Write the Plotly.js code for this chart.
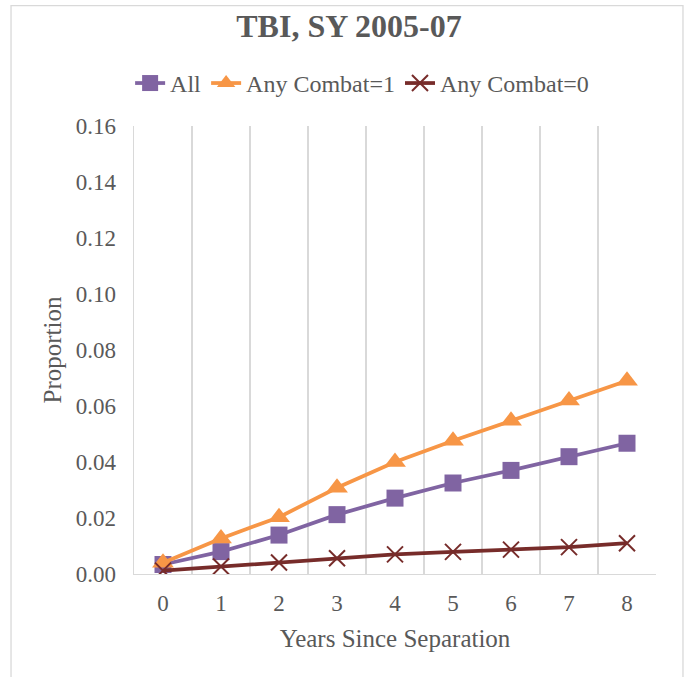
<!DOCTYPE html>
<html>
<head>
<meta charset="utf-8">
<script src="https://cdn.plot.ly/plotly-3.0.1.min.js"></script>
<style>html,body{margin:0;padding:0;background:#fff;}#chart{width:687px;height:677px;}</style>
</head>
<body>
<div id="chart"></div>
<script>
const years = ['0','1','2','3','4','5','6','7','8'];
const allVals = [0.0034, 0.0080, 0.0139, 0.0212, 0.0271, 0.0325, 0.0370, 0.0419, 0.0467];
const combat1 = [0.0040, 0.0127, 0.0203, 0.0308, 0.0400, 0.0476, 0.0547, 0.0620, 0.0690];
const combat0 = [0.0012, 0.0027, 0.0041, 0.0056, 0.0070, 0.0079, 0.0087, 0.0096, 0.0110];
const seriesNames = ['All', 'Any Combat=1', 'Any Combat=0'];
const yTicks = [0, 0.02, 0.04, 0.06, 0.08, 0.10, 0.12, 0.14, 0.16];

const font = 'Liberation Serif';
const gray = '#595959';

const traces = [
  {x: years, y: allVals, name: seriesNames[0], mode: 'lines+markers', type: 'scatter',
   line: {color: '#8064A2', width: 3.75}, marker: {symbol: 'square', size: 17, color: '#8064A2'}},
  {x: years, y: combat1, name: seriesNames[1], mode: 'lines+markers', type: 'scatter',
   line: {color: '#F79646', width: 3.75}, marker: {symbol: 'triangle-up', size: 19, color: '#F79646'}},
  {x: years, y: combat0, name: seriesNames[2], mode: 'lines+markers', type: 'scatter',
   line: {color: '#772C2A', width: 3.75}, marker: {symbol: 'x-thin-open', size: 16, color: '#772C2A', line: {width: 2, color: '#772C2A'}}}
];

const layout = {
  width: 687, height: 677,
  margin: {l: 134, r: 31, t: 126, b: 103},
  paper_bgcolor: '#fff', plot_bgcolor: '#fff',
  font: {family: font, color: gray, size: 24},
  title: {text: '<b>TBI, SY 2005-07</b>', font: {family: font, size: 32, color: gray}, x: 0.508, xanchor: 'center', y: 0.962, yanchor: 'middle'},
  showlegend: true,
  legend: {orientation: 'h', x: 0.437, xanchor: 'center', y: 1.095, yanchor: 'middle', font: {family: font, size: 24, color: gray}, itemwidth: 30, tracegroupgap: 0},
  xaxis: {type: 'category', tickson: 'boundaries', showgrid: true, gridcolor: '#D9D9D9', gridwidth: 1.3,
    showline: true, linecolor: '#D9D9D9', linewidth: 1.3, ticks: '', zeroline: false,
    tickfont: {family: font, size: 23, color: gray}, ticklabelstandoff: 8,
    title: {text: 'Years Since Separation', font: {family: font, size: 25, color: gray}, standoff: 14},
    range: [-0.5, 8.5], fixedrange: true},
  yaxis: {range: [0, 0.16], tickvals: yTicks, tickformat: '.2f', showgrid: false, zeroline: false,
    showline: true, linecolor: '#D9D9D9', linewidth: 1.3, ticks: '',
    tickfont: {family: font, size: 23, color: gray}, ticklabelstandoff: 12,
    title: {text: 'Proportion', font: {family: font, size: 25, color: gray}, standoff: 7}},
  shapes: [{type: 'rect', xref: 'paper', yref: 'paper', x0: -0.2356, x1: 1.0517, y0: -0.3, y1: 1.2685,
    line: {color: '#D9D9D9', width: 1.3}, fillcolor: 'rgba(0,0,0,0)', layer: 'below'}]
};

Plotly.newPlot('chart', traces, layout, {displayModeBar: false, staticPlot: true});
</script>
</body>
</html>
